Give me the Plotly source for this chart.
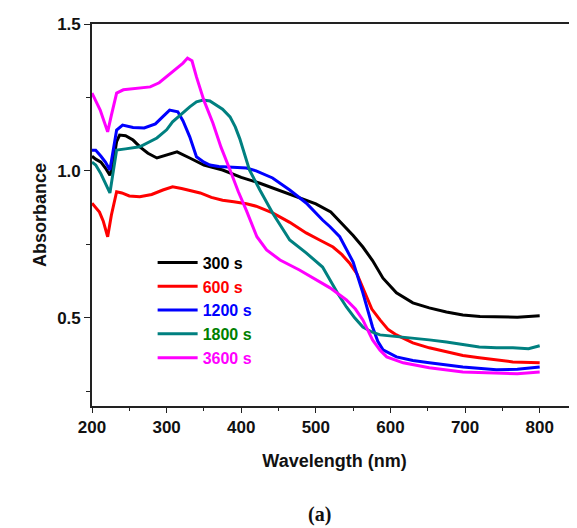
import plotly.graph_objects as go

# ---- data ----
x_300 = [200, 205, 212, 218, 224, 228, 233, 237, 245, 255, 265, 275, 287, 300, 314, 331, 350, 375, 400, 425, 450,
         475, 500, 520, 535, 550, 563, 576, 590, 608, 630, 652, 675, 697, 720, 742, 770, 800]
y_300 = [1.05, 1.04, 1.03, 1.01, 0.985, 1.02, 1.10, 1.122, 1.12, 1.105, 1.08, 1.06, 1.044, 1.055, 1.065, 1.044, 1.02,
         1.003, 0.978, 0.958, 0.935, 0.912, 0.888, 0.86, 0.82, 0.78, 0.741, 0.695, 0.635, 0.585, 0.551, 0.534, 0.52,
         0.51, 0.505, 0.503, 0.502, 0.507]

x_600 = [200, 205, 210, 215, 221, 226, 233, 240, 250, 264, 280, 295, 308, 320, 335, 345, 360, 375, 390, 407, 420,
         442, 465, 487, 505, 523, 535, 545, 555, 563, 575, 586, 597, 608, 630, 652, 675, 697, 719, 742, 764, 800]
y_600 = [0.89, 0.875, 0.86, 0.83, 0.776, 0.85, 0.929, 0.925, 0.915, 0.912, 0.92, 0.935, 0.946, 0.94, 0.93, 0.925,
         0.91, 0.90, 0.895, 0.888, 0.88, 0.857, 0.825, 0.789, 0.765, 0.741, 0.715, 0.687, 0.65, 0.60, 0.53, 0.493,
         0.46, 0.442, 0.415, 0.398, 0.384, 0.372, 0.364, 0.356, 0.35, 0.347]

x_1200 = [200, 205, 212, 218, 224, 228, 233, 241, 255, 270, 285, 295, 304, 315, 322, 331, 340, 350, 358, 370, 385,
          407, 420, 442, 465, 487, 509, 519, 532, 541, 550, 563, 570, 576, 583, 590, 608, 630, 652, 675, 697, 742,
          770, 800]
y_1200 = [1.07, 1.07, 1.05, 1.03, 1.003, 1.06, 1.139, 1.156, 1.148, 1.146, 1.16, 1.185, 1.207, 1.201, 1.17, 1.116,
          1.048, 1.03, 1.02, 1.015, 1.014, 1.01, 1.0, 0.976, 0.935, 0.891, 0.833, 0.81, 0.776, 0.735, 0.69, 0.585,
          0.52, 0.469, 0.42, 0.391, 0.367, 0.355, 0.347, 0.34, 0.333, 0.323, 0.325, 0.333]

x_1800 = [200, 205, 212, 218, 224, 228, 233, 245, 264, 287, 300, 308, 320, 331, 340, 349, 358, 367, 375, 385, 392,
          398, 404, 411, 425, 442, 465, 487, 509, 519, 530, 541, 552, 563, 575, 586, 608, 630, 652, 675, 697, 719,
          742, 764, 785, 800]
y_1800 = [1.03, 1.02, 0.99, 0.96, 0.925, 0.99, 1.071, 1.075, 1.082, 1.112, 1.14, 1.167, 1.195, 1.218, 1.235, 1.241,
          1.238, 1.224, 1.21, 1.184, 1.15, 1.11, 1.06, 1.003, 0.935, 0.857, 0.765, 0.721, 0.673, 0.629, 0.58, 0.537,
          0.50, 0.469, 0.452, 0.442, 0.437, 0.432, 0.425, 0.418, 0.41, 0.401, 0.398, 0.398, 0.395, 0.405]

x_3600 = [200, 203, 207, 211, 216, 221, 226, 233, 242, 260, 278, 290, 300, 311, 322, 328, 334, 340, 350, 362, 373,
          385, 396, 407, 415, 421, 434, 452, 478, 501, 519, 541, 553, 563, 576, 586, 595, 617, 652, 697, 742, 770,
          800]
y_3600 = [1.265, 1.25, 1.225, 1.207, 1.17, 1.133, 1.19, 1.265, 1.276, 1.28, 1.286, 1.30, 1.32, 1.345, 1.367, 1.384,
          1.375, 1.32, 1.24, 1.163, 1.08, 1.003, 0.93, 0.865, 0.81, 0.776, 0.731, 0.697, 0.663, 0.629, 0.602, 0.561,
          0.53, 0.493, 0.425, 0.39, 0.367, 0.347, 0.33, 0.316, 0.313, 0.31, 0.316]

series_names = ["300 s", "600 s", "1200 s", "1800 s", "3600 s"]
line_colors = ["#000000", "#ff0000", "#0000ff", "#008080", "#ff00ff"]
text_colors = ["#000000", "#ff0000", "#0000ff", "#008000", "#ff00ff"]
xs = [x_300, x_600, x_1200, x_1800, x_3600]
ys = [y_300, y_600, y_1200, y_1800, y_3600]

x_ticks = [200, 300, 400, 500, 600, 700, 800]
y_ticks = [0.5, 1.0, 1.5]
y_tick_labels = ["0.5", "1.0", "1.5"]

fig = go.Figure()
for name, lc, tc, x, y in zip(series_names, line_colors, text_colors, xs, ys):
    fig.add_trace(go.Scatter(
        x=x, y=y, mode="lines",
        name=f'<span style="color:{tc}">{name}</span>',
        line=dict(color=lc, width=3),
    ))

font_main = "Liberation Sans, Arial, sans-serif"

# page body has an 8px margin, so the figure is sized to end at the window edge
fig.update_layout(
    width=569, height=520,
    margin=dict(l=84, r=0, t=16, b=122, autoexpand=False),
    paper_bgcolor="white", plot_bgcolor="white",
    showlegend=True,
    legend=dict(
        x=0.125, y=0.42, xanchor="left", yanchor="top",
        bgcolor="rgba(0,0,0,0)",
        font=dict(family=font_main, size=16, weight="bold"),
        tracegroupgap=0, itemwidth=40,
    ),
    xaxis=dict(
        range=[200, 850], showgrid=False, zeroline=False, automargin=False,
        showline=True, linecolor="#222", linewidth=1.6, mirror=True,
        ticks="outside", ticklen=5, tickwidth=1.4, tickcolor="#222",
        tickvals=x_ticks,
        tickfont=dict(family=font_main, size=17, color="#111", weight="bold"),
        minor=dict(dtick=50, tick0=0, ticks="outside", ticklen=3, tickwidth=1.2, tickcolor="#222"),
        title=dict(text="Wavelength (nm)", standoff=18,
                   font=dict(family=font_main, size=18, color="#111", weight="bold")),
    ),
    yaxis=dict(
        range=[0.2, 1.5], showgrid=False, zeroline=False, automargin=False,
        showline=True, linecolor="#222", linewidth=1.6,
        ticks="outside", ticklen=6, tickwidth=1.4, tickcolor="#222",
        tickvals=y_ticks, ticktext=y_tick_labels,
        tickfont=dict(family=font_main, size=17, color="#111", weight="bold"),
        minor=dict(dtick=0.25, tick0=0, ticks="outside", ticklen=4, tickwidth=1.2, tickcolor="#222"),
        title=dict(text="Absorbance", standoff=6,
                   font=dict(family=font_main, size=18, color="#111", weight="bold")),
    ),
    annotations=[dict(
        text="<b>(a)</b>", x=0.47, y=-0.285, xref="paper", yref="paper",
        xanchor="center", yanchor="middle", showarrow=False,
        font=dict(family="Liberation Serif, serif", size=20, color="#111"),
    )],
)

fig.write_html("out.html")
